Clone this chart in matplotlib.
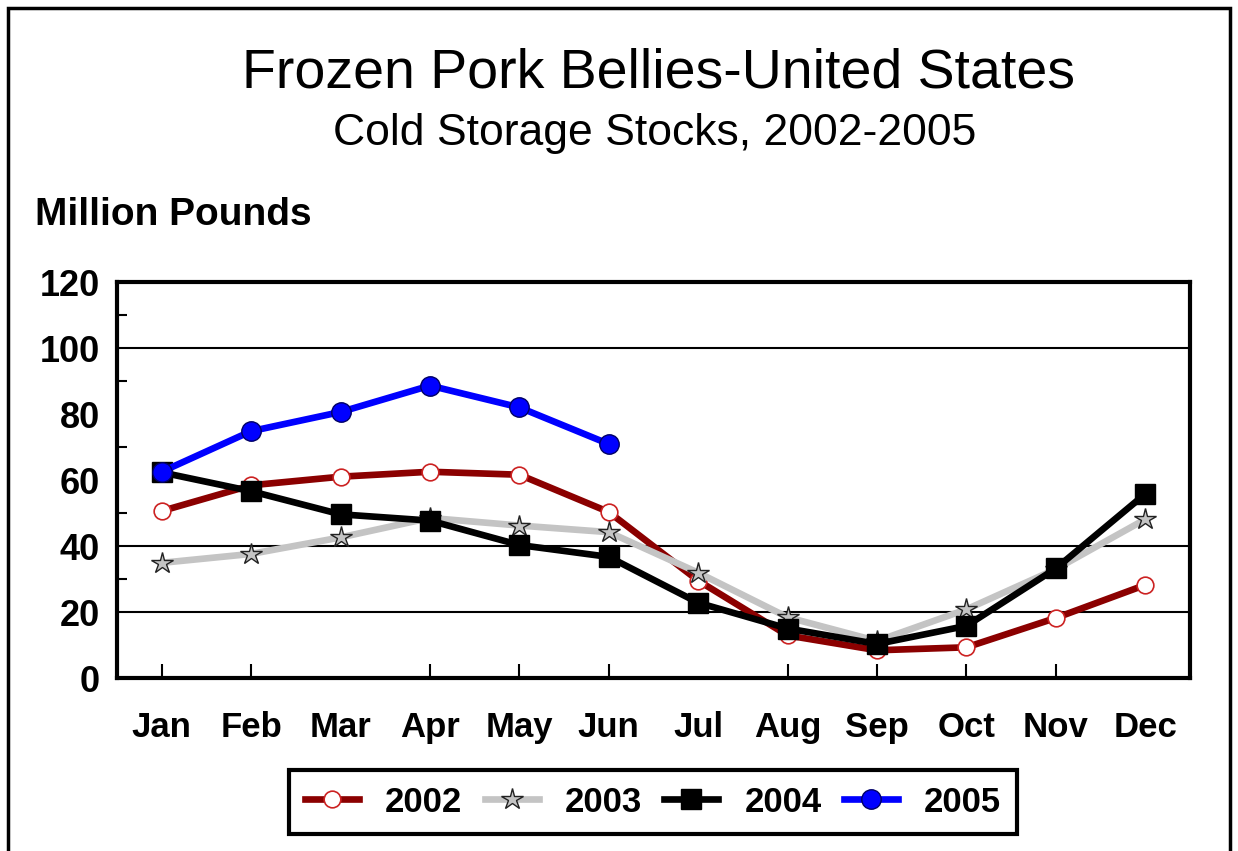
import numpy as np
import matplotlib.pyplot as plt
from matplotlib.patches import Rectangle

plt.rcParams['font.family'] = ['Liberation Sans', 'DejaVu Sans']

months = ['Jan', 'Feb', 'Mar', 'Apr', 'May', 'Jun',
          'Jul', 'Aug', 'Sep', 'Oct', 'Nov', 'Dec']
y2002 = [50.6, 58.4, 61.0, 62.5, 61.6, 50.3, 29.5, 12.9, 8.4, 9.3, 18.2, 28.2]
y2003 = [34.9, 37.6, 42.6, 48.5, 46.2, 44.2, 31.9, 18.4, 11.2, 20.8, 33.0, 48.1]
y2004 = [62.3, 56.6, 49.6, 47.7, 40.3, 36.7, 22.8, 15.0, 10.3, 15.8, 33.2, 55.8]
y2005 = [62.5, 74.8, 80.6, 88.6, 82.0, 70.9]
years = ['2002', '2003', '2004', '2005']

x = np.arange(len(months))

fig = plt.figure(figsize=(12.38, 8.51), dpi=100)
fig.patches.append(Rectangle((8 / 1238, -0.05), 1222 / 1238, 1.05 - 8 / 851,
                             transform=fig.transFigure, fill=False,
                             edgecolor='black', linewidth=2.5))

ax = fig.add_axes([117 / 1238, 1 - 678 / 851, (1190 - 117) / 1238, (678 - 282) / 851])

# series
ax.plot(x, y2002, color='#8b0000', lw=4.8, marker='o', ms=12,
        mfc='white', mec='#cc2222', mew=1.2, label=years[0], zorder=3)
ax.plot(x, y2003, color='#c4c4c4', lw=4.8, marker='*', ms=16,
        mfc='#c4c4c4', mec='#222222', mew=1.0, label=years[1], zorder=4)
ax.plot(x, y2004, color='black', lw=4.8, marker='s', ms=14,
        mfc='black', mec='black', label=years[2], zorder=5)
ax.plot(x[:len(y2005)], y2005, color='#0000ff', lw=4.8, marker='o', ms=14,
        mfc='#0000ff', mec='#000066', mew=1.0, label=years[3], zorder=6)

ax.set_xlim(-0.5, 11.5)
ax.set_ylim(0, 120)

# gridlines only at a few levels, like the original
for g in [20, 40, 100]:
    ax.axhline(g, color='black', lw=1.5, zorder=1)

ax.set_yticks(range(0, 121, 20))
ax.set_yticks([30, 50, 70, 90, 110], minor=True)
ax.tick_params(axis='y', which='major', length=0, pad=12.5, labelsize=26)
ax.tick_params(axis='y', which='minor', direction='in', length=7, width=1.5)

ax.set_xticks(x)
ax.set_xticklabels(months)
ax.tick_params(axis='x', which='major', length=0, pad=24, labelsize=25)
for lab in ax.get_xticklabels() + ax.get_yticklabels():
    lab.set_fontweight('bold')

# small upward ticks at bottom (missing at Mar, Jul, Dec in the original)
tick_idx = [0, 1, 3, 4, 5, 7, 8, 9, 10]
ax.vlines(tick_idx, 0, 4.2, color='black', lw=1.5, zorder=2)

for s in ax.spines.values():
    s.set_linewidth(3)

fig.text(0.532, 1 - 73 / 851, 'Frozen Pork Bellies-United States', ha='center',
         va='center', fontsize=40)
fig.text(0.529, 1 - 134 / 851, 'Cold Storage Stocks, 2002-2005', ha='center',
         va='center', fontsize=32)
fig.text(35 / 1238, 1 - 215 / 851, 'Million Pounds', ha='left', va='center',
         fontsize=28, fontweight='bold')

leg = fig.legend(loc='center', bbox_to_anchor=(653 / 1238, 1 - 802 / 851),
                 ncol=4, frameon=True, fancybox=False, framealpha=1,
                 handlelength=1.55, columnspacing=0.65, handletextpad=0.75,
                 borderpad=0.45, prop={'weight': 'bold', 'size': 25})
leg.get_frame().set_edgecolor('black')
leg.get_frame().set_linewidth(3)

fig.savefig('out.png', dpi=100)
